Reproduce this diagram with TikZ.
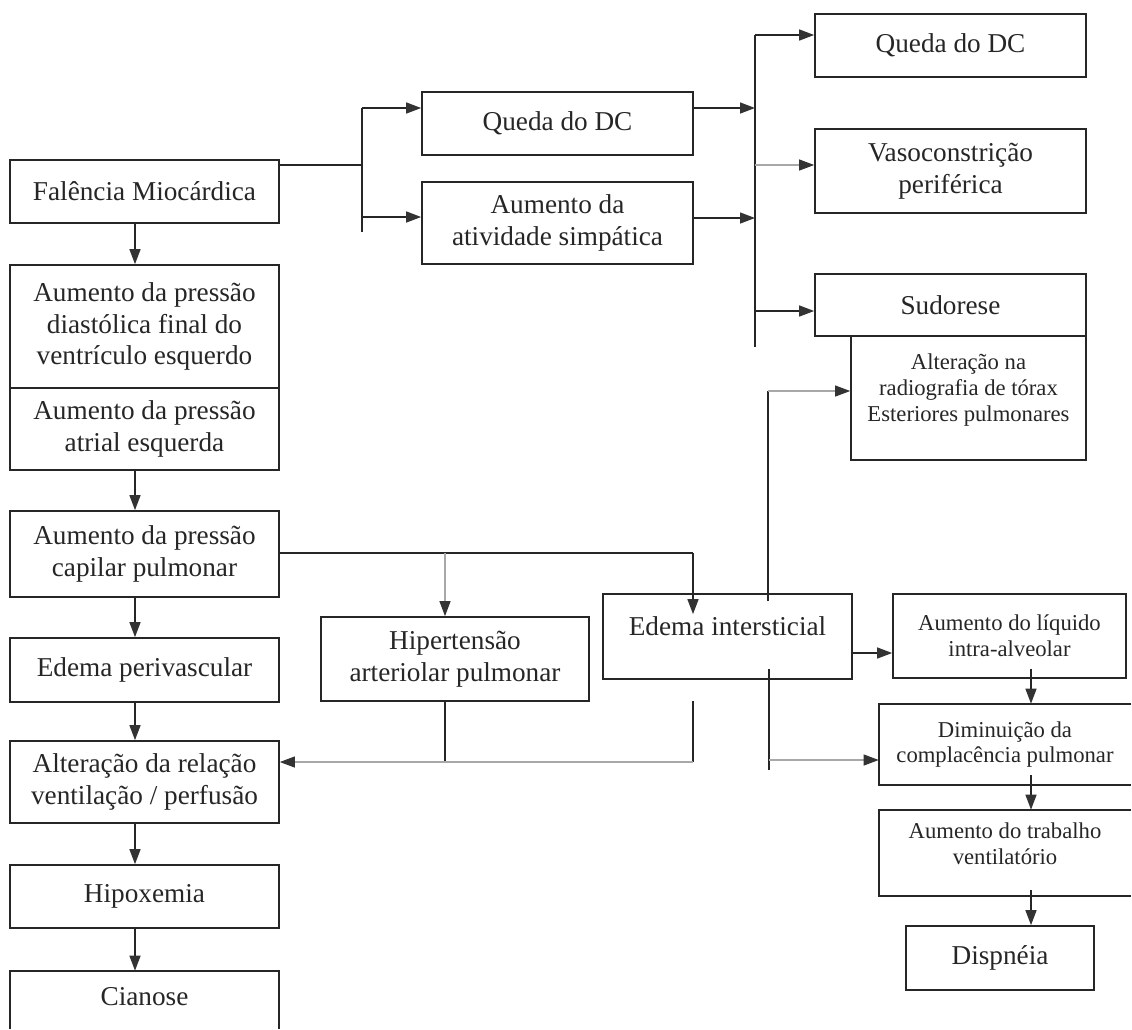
\documentclass[tikz,border=0pt]{standalone}
\usepackage{fontspec}
\setmainfont{Liberation Serif}
\usetikzlibrary{arrows.meta}
\definecolor{ink}{HTML}{262626}
\definecolor{faint}{HTML}{A8A8A8}
\definecolor{tipc}{HTML}{333333}
\newcommand\bigtxt{\fontsize{15.5pt}{17.9pt}\selectfont}
\newcommand\smalltxt{\fontsize{12.9pt}{14.7pt}\selectfont}
\tikzset{
  box/.style={rectangle, draw=ink, line width=1pt, align=center, inner sep=0pt, font=\bigtxt, text=ink},
  openbox/.style={rectangle, align=center, inner sep=0pt, font=\smalltxt, text=ink},
  frame/.style={draw=ink, line width=1pt},
  conn/.style={draw=ink, line width=0.8pt},
  gline/.style={draw=faint, line width=0.6pt},
  arr/.style={conn, -{Triangle[length=0.3cm,width=0.22cm,color=tipc]}},
  garr/.style={gline, -{Triangle[length=0.3cm,width=0.22cm,color=tipc]}}
}
\begin{document}
\begin{tikzpicture}[x=0.02cm,y=-0.02cm]
\useasboundingbox[fill=white] (0,0) rectangle (1132,1029);

% left column
\node[box, minimum width=5.38cm, minimum height=1.26cm] (fal) at (144.5,191.5) {Falência Miocárdica};
\node[box, minimum width=5.38cm, minimum height=2.46cm] (dia) at (144.5,326.5) {Aumento da pressão\\diastólica final do\\ventrículo esquerdo};
\node[box, minimum width=5.38cm, minimum height=1.64cm] (atr) at (144.5,429) {Aumento da pressão\\atrial esquerda};
\node[box, minimum width=5.38cm, minimum height=1.72cm] (cap) at (144.5,554) {Aumento da pressão\\capilar pulmonar};
\node[box, minimum width=5.38cm, minimum height=1.28cm] (per) at (144.5,670) {Edema perivascular};
\node[box, minimum width=5.38cm, minimum height=1.64cm] (alt) at (144.5,782) {Alteração da relação\\ventilação / perfusão};
\node[box, minimum width=5.38cm, minimum height=1.26cm] (hipox) at (144.5,896.5) {Hipoxemia};
\node[openbox, font=\bigtxt, minimum width=5.38cm, minimum height=1.04cm] (cia) at (144.5,997) {Cianose};
\draw[frame] ([yshift=-0.12cm]cia.south west) |- (cia.north east) -- ([yshift=-0.12cm]cia.south east);

% middle top
\node[box, minimum width=5.42cm, minimum height=1.26cm] (q1) at (557.5,123.5) {Queda do DC};
\node[box, minimum width=5.42cm, minimum height=1.64cm] (sim) at (557.5,223) {Aumento da\\atividade simpática};

% right top
\node[box, minimum width=5.42cm, minimum height=1.26cm] (q2) at (950.5,45.5) {Queda do DC};
\node[box, minimum width=5.42cm, minimum height=1.68cm] (vas) at (950.5,171) {Vasoconstrição\\periférica};
\node[box, minimum width=5.42cm, minimum height=1.24cm] (sud) at (950.5,305) {Sudorese};
\node[box, font=\smalltxt, minimum width=4.70cm, minimum height=2.48cm] (rad) at (968.5,398) {Alteração na\\radiografia de tórax\\Esteriores pulmonares\\[-2.9pt]\mbox{}};

% centre
\node[box, minimum width=5.36cm, minimum height=1.68cm] (hip2) at (455,659) {Hipertensão\\arteriolar pulmonar};
\node[box, minimum width=4.98cm, minimum height=1.70cm] (ei) at (727.5,636.5) {Edema intersticial\\[-5.5pt]\mbox{}};

% right lower
\node[box, font=\smalltxt, minimum width=4.66cm, minimum height=1.68cm] (liq) at (1009.5,636) {Aumento do líquido\\intra-alveolar};
\node[openbox, minimum width=5.04cm, minimum height=1.62cm] (dim) at (1005,744.5) {Diminuição da\\complacência pulmonar};
\draw[frame] (dim.north east) -- (dim.north west) -- (dim.south west) -- (dim.south east);
\node[openbox, minimum width=5.04cm, minimum height=1.72cm] (trab) at (1005,853) {Aumento do trabalho\\ventilatório\\[-4pt]\mbox{}};
\draw[frame] (trab.north east) -- (trab.north west) -- (trab.south west) -- (trab.south east);
\node[box, minimum width=3.76cm, minimum height=1.28cm] (dis) at (1000,958) {Dispnéia};

% left column arrows
\coordinate (ax) at (135,0);
\draw[arr] (fal.south -| ax) -- (dia.north -| ax);
\draw[arr] (atr.south -| ax) -- (cap.north -| ax);
\draw[arr] (cap.south -| ax) -- (per.north -| ax);
\draw[arr] (per.south -| ax) -- (alt.north -| ax);
\draw[arr] (alt.south -| ax) -- (hipox.north -| ax);
\draw[arr] (hipox.south -| ax) -- (cia.north -| ax);

% left bus
\coordinate (lbA) at (362,108);
\coordinate (lbF) at (362,165);
\coordinate (lbB) at (362,217);
\coordinate (lbEnd) at (362,232);
\draw[conn] (fal.east |- lbF) -- (lbF);
\draw[conn] (lbA) -- (lbEnd);
\draw[arr] (lbA) -- (q1.west |- lbA);
\draw[arr] (lbB) -- (sim.west |- lbB);

% right bus
\coordinate (rbTop) at (755,35);
\coordinate (rbQ) at (755,108);
\coordinate (rbV) at (755,165);
\coordinate (rbA) at (755,218);
\coordinate (rbS) at (755,311);
\coordinate (rbEnd) at (755,347);
\draw[conn] (rbTop) -- (rbEnd);
\draw[arr] (q1.east |- rbQ) -- (rbQ);
\draw[arr] (sim.east |- rbA) -- (rbA);
\draw[arr] (rbTop) -- (q2.west |- rbTop);
\draw[garr] (rbV) -- (vas.west |- rbV);
\draw[arr] (rbS) -- (sud.west |- rbS);

% radiografia
\coordinate (rx) at (768,391);
\draw[conn] ([yshift=-0.16cm]ei.north -| rx) -- (rx);
\draw[garr] (rx) -- (rad.west |- rx);

% capilar branches
\coordinate (cy) at (693,553);
\coordinate (hb) at (445,553);
\draw[conn] (cap.east |- cy) -- (cy);
\draw[arr] (cy) -- ([yshift=-0.42cm]ei.north -| cy);
\draw[garr] (hb) -- (hip2.north -| hb);

% edema -> liquido
\coordinate (el) at (852,653);
\draw[arr] (ei.east |- el) -- (liq.west |- el);

% lower returns
\coordinate (d1) at (769,760);
\coordinate (d1end) at (769,770);
\draw[conn] ([yshift=0.22cm]ei.south -| d1) -- (d1end);
\draw[garr] (d1) -- (dim.west |- d1);
\coordinate (d2top) at (693,701);
\coordinate (d2) at (693,762);
\draw[conn] (d2top) -- (d2);
\draw[conn] (hip2.south -| hb) -- (hb |- d2);
\draw[garr] (d2) -- (alt.east |- d2);

% right column arrows
\coordinate (rx2) at (1031,0);
\draw[arr] ([yshift=0.2cm]liq.south -| rx2) -- (dim.north -| rx2);
\draw[arr] ([yshift=0.2cm]dim.south -| rx2) -- (trab.north -| rx2);
\draw[arr] ([yshift=0.12cm]trab.south -| rx2) -- (dis.north -| rx2);
\end{tikzpicture}
\end{document}
